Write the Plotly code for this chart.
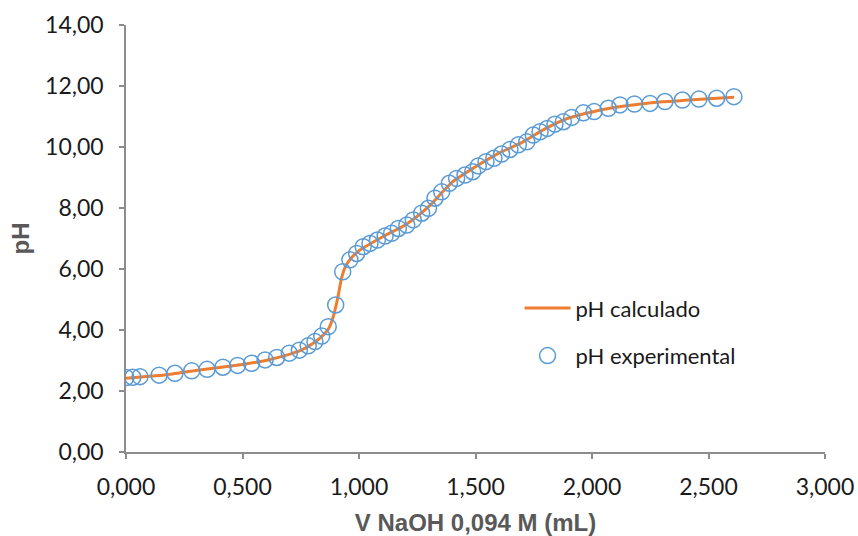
import plotly.graph_objects as go

# Experimental data (V NaOH in mL, pH)
v_exp = [0.000, 0.029, 0.060, 0.142, 0.210, 0.282, 0.348, 0.416, 0.479, 0.539,
         0.597, 0.647, 0.701, 0.744, 0.782, 0.811, 0.840, 0.868, 0.900, 0.930,
         0.961, 0.990, 1.018, 1.047, 1.079, 1.112, 1.140, 1.169, 1.205, 1.233,
         1.269, 1.298, 1.326, 1.355, 1.388, 1.419, 1.455, 1.488, 1.512, 1.545,
         1.579, 1.612, 1.648, 1.684, 1.720, 1.748, 1.777, 1.808, 1.841, 1.877,
         1.913, 1.963, 2.009, 2.070, 2.120, 2.182, 2.249, 2.313, 2.388, 2.459,
         2.535, 2.609]
ph_exp = [2.44, 2.45, 2.47, 2.52, 2.58, 2.66, 2.71, 2.78, 2.84, 2.91,
          3.02, 3.10, 3.24, 3.34, 3.48, 3.62, 3.80, 4.11, 4.82, 5.91,
          6.30, 6.51, 6.73, 6.84, 6.95, 7.08, 7.17, 7.33, 7.44, 7.61,
          7.83, 7.99, 8.32, 8.53, 8.81, 8.97, 9.08, 9.19, 9.38, 9.52,
          9.63, 9.77, 9.92, 10.07, 10.17, 10.39, 10.50, 10.61, 10.75, 10.83,
          10.97, 11.12, 11.16, 11.27, 11.38, 11.41, 11.43, 11.49, 11.54, 11.57,
          11.60, 11.65]

# Calculated curve
v_calc = [0.00, 0.10, 0.20, 0.30, 0.40, 0.50, 0.60, 0.70, 0.75, 0.80, 0.84,
          0.87, 0.89, 0.91, 0.925, 0.94, 0.96, 1.00, 1.10, 1.20, 1.30, 1.40,
          1.50, 1.60, 1.70, 1.80, 1.90, 2.00, 2.10, 2.20, 2.30, 2.40, 2.50, 2.61]
ph_calc = [2.42, 2.48, 2.56, 2.67, 2.77, 2.87, 3.00, 3.20, 3.33, 3.55, 3.78,
           4.05, 4.45, 5.10, 5.70, 6.05, 6.30, 6.60, 7.05, 7.45, 8.05, 8.85,
           9.35, 9.80, 10.15, 10.60, 10.95, 11.15, 11.30, 11.40, 11.48, 11.53,
           11.58, 11.63]

x_ticks = [0, 0.5, 1.0, 1.5, 2.0, 2.5, 3.0]
y_ticks = [0, 2, 4, 6, 8, 10, 12, 14]

fig = go.Figure()
fig.add_trace(go.Scatter(
    x=v_calc, y=ph_calc, mode="lines", name="pH calculado",
    line=dict(color="#ED7D31", width=3, shape="spline", smoothing=0.6),
    legendgroup="a"))
fig.add_trace(go.Scatter(
    x=v_exp, y=ph_exp, mode="markers", name="pH experimental",
    marker=dict(symbol="circle-open", size=16, color="#5B9BD5",
                line=dict(width=1.5, color="#5B9BD5")),
    legendgroup="b"))

axis_common = dict(showgrid=False, zeroline=False, showline=True,
                   linecolor="#8C8C8C", linewidth=1.5, ticks="outside",
                   ticklen=5, tickcolor="#8C8C8C", tickwidth=1.5,
                   automargin=False,
                   tickfont=dict(family="Lato", size=23, color="#1a1a1a"))

fig.update_layout(
    width=858, height=536,
    margin=dict(l=126, r=33, t=25, b=84),
    paper_bgcolor="white", plot_bgcolor="white",
    separators=",.",
    xaxis=dict(range=[0, 3], tickvals=x_ticks, tickformat=".3f",
               ticklabelstandoff=9,
               title=dict(text="V NaOH 0,094 M (mL)", standoff=16,
                          font=dict(family="Liberation Sans", size=24, color="#595959")),
               **axis_common),
    yaxis=dict(range=[0, 14], tickvals=y_ticks, tickformat=".2f",
               ticklabelstandoff=11,
               title=dict(text="pH", standoff=9,
                          font=dict(family="Liberation Sans", size=24, color="#595959")),
               **axis_common),
    legend=dict(x=0.563, y=0.386, xanchor="left", yanchor="top",
                font=dict(family="Lato", size=22, color="#1a1a1a"),
                itemwidth=46,
                tracegroupgap=16, bgcolor="rgba(0,0,0,0)"),
    showlegend=True,
)
fig.update_xaxes(title_font_weight="bold")
fig.update_yaxes(title_font_weight="bold")

fig.write_html("out.html", config={"displayModeBar": False},
               post_script="document.body.style.margin='0';document.body.style.overflow='hidden';")
